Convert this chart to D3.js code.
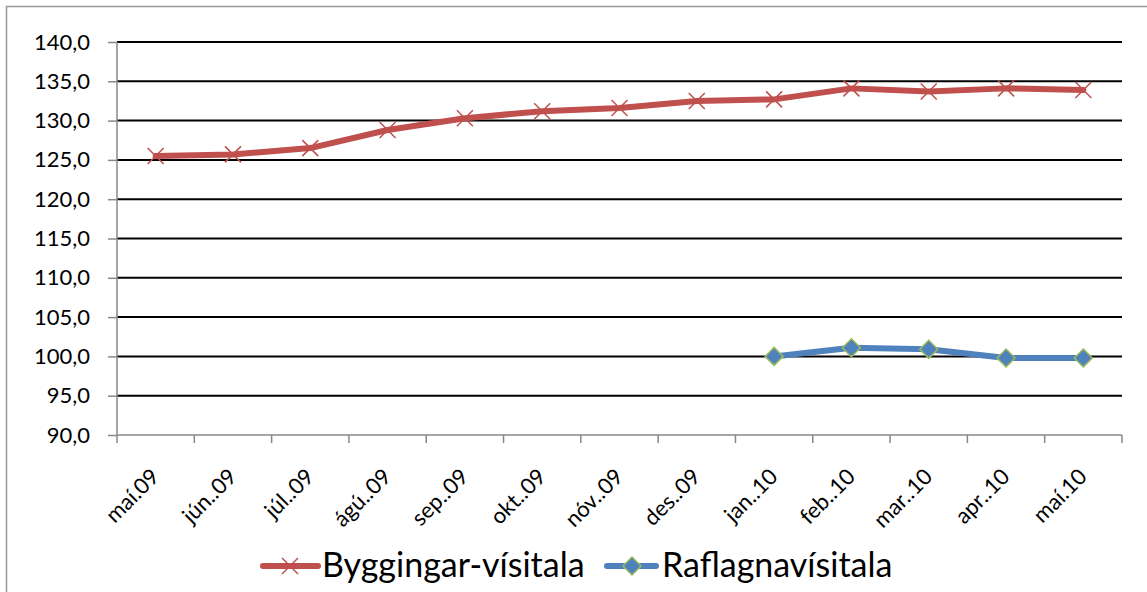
<!DOCTYPE html>
<html>
<head>
<meta charset="utf-8">
<script src="https://cdn.jsdelivr.net/npm/d3@7"></script>
<style>
  body { margin: 0; background: #fff; }
  svg { display: block; font-family: Lato, "Open Sans", sans-serif; }
</style>
</head>
<body>
<script>
var months = ["maí.09", "jún..09", "júl..09", "ágú..09", "sep..09", "okt..09", "nóv..09",
  "des..09", "jan..10", "feb..10", "mar..10", "apr..10", "maí.10"];
var bygging = [125.5, 125.7, 126.5, 128.8, 130.3, 131.2, 131.6, 132.5, 132.7, 134.1, 133.7, 134.1, 133.9];
var raflagna = [null, null, null, null, null, null, null, null, 100.0, 101.1, 100.9, 99.8, 99.8];
var yTicks = [90, 95, 100, 105, 110, 115, 120, 125, 130, 135, 140];

const w = 1147, h = 592;
var margin = { top: 42, left: 117, right: 25, bottom: 157 };
var pw = w - margin.left - margin.right;
var ph = h - margin.top - margin.bottom;

var svg = d3.select("body").append("svg")
  .attr("width", w)
  .attr("height", h);

// outer chart border
svg.append("path")
  .attr("d", "M6.5," + h + "V6.5H" + w)
  .attr("fill", "none")
  .attr("stroke", "#999")
  .attr("stroke-width", 1.5);

var g = svg.append("g")
  .attr("transform", "translate(" + margin.left + "," + margin.top + ")");

var x = d3.scaleBand().domain(months).range([0, pw]);
var y = d3.scaleLinear().domain([90, 140]).range([ph, 0]);
var cx = (d) => x(d) + x.bandwidth() / 2;

// gridlines
g.selectAll(".grid")
  .data(yTicks.slice(1))
  .enter()
  .append("line")
  .attr("x1", 0).attr("x2", pw)
  .attr("y1", (d) => y(d)).attr("y2", (d) => y(d))
  .attr("stroke", "#000")
  .attr("stroke-width", 2);

// y axis
var yAxis = g.append("g")
  .call(d3.axisLeft(y).tickValues(yTicks).tickSize(9).tickPadding(18)
    .tickFormat((d) => d3.format(".1f")(d).replace(".", ",")));
yAxis.select(".domain").attr("stroke", "#888").attr("stroke-width", 1.5).attr("d", "M0,0V" + ph);
yAxis.selectAll(".tick line").attr("stroke", "#888").attr("stroke-width", 1.5);
yAxis.selectAll("text").attr("font-size", 22).attr("fill", "#000")
  .attr("font-family", "Lato, sans-serif");

// x axis with ticks at category boundaries
var xg = g.append("g").attr("transform", "translate(0," + ph + ")");
xg.append("line").attr("x1", 0).attr("x2", pw).attr("stroke", "#888").attr("stroke-width", 1.5);
var bounds = months.map((d) => x(d)).concat([pw]);
xg.selectAll(".xt")
  .data(bounds)
  .enter()
  .append("line")
  .attr("x1", (d) => d).attr("x2", (d) => d)
  .attr("y1", 0).attr("y2", 8)
  .attr("stroke", "#888").attr("stroke-width", 1.5);
xg.selectAll(".xl")
  .data(months)
  .enter()
  .append("text")
  .attr("transform", (d) => "translate(" + (cx(d) + 5) + ",43) rotate(-45)")
  .attr("text-anchor", "end")
  .attr("font-size", 22)
  .text((d) => d);

// lines
var line = d3.line()
  .defined((d) => d[1] != null)
  .x((d) => cx(d[0]))
  .y((d) => y(d[1]));

g.append("path")
  .datum(months.map((m, i) => [m, bygging[i]]))
  .attr("d", line)
  .attr("fill", "none")
  .attr("stroke", "#c0504d")
  .attr("stroke-width", 6)
  .attr("stroke-linejoin", "round")
  .attr("stroke-linecap", "round");

g.append("path")
  .datum(months.map((m, i) => [m, raflagna[i]]))
  .attr("d", line)
  .attr("fill", "none")
  .attr("stroke", "#4f81bd")
  .attr("stroke-width", 6)
  .attr("stroke-linejoin", "round")
  .attr("stroke-linecap", "round");

var cross = "M-8,-8L8,8M-8,8L8,-8";
var diamond = "M0,-9L9,0L0,9L-9,0Z";

g.selectAll(".xm")
  .data(months)
  .enter()
  .append("path")
  .attr("transform", (d, i) => "translate(" + cx(d) + "," + y(bygging[i]) + ")")
  .attr("d", cross)
  .attr("stroke", "#c0504d")
  .attr("stroke-width", 1.5)
  .attr("fill", "none");

g.selectAll(".dm")
  .data(months.filter((d, i) => raflagna[i] != null))
  .enter()
  .append("path")
  .attr("transform", (d) => "translate(" + cx(d) + "," + y(raflagna[months.indexOf(d)]) + ")")
  .attr("d", diamond)
  .attr("fill", "#4f81bd")
  .attr("stroke", "#9bbb59")
  .attr("stroke-width", 1.5);

// legend
var legend = svg.append("g").attr("transform", "translate(0,566)");
legend.append("line")
  .attr("x1", 263).attr("x2", 318)
  .attr("stroke", "#c0504d").attr("stroke-width", 6).attr("stroke-linecap", "round");
legend.append("path")
  .attr("transform", "translate(290,0)")
  .attr("d", cross)
  .attr("stroke", "#c0504d").attr("stroke-width", 1.5);
legend.append("text")
  .attr("x", 322).attr("y", 11)
  .attr("font-size", 34)
  .text("Byggingar-vísitala");

legend.append("line")
  .attr("x1", 607).attr("x2", 656)
  .attr("stroke", "#4f81bd").attr("stroke-width", 6).attr("stroke-linecap", "round");
legend.append("path")
  .attr("transform", "translate(632,0)")
  .attr("d", diamond)
  .attr("fill", "#4f81bd").attr("stroke", "#9bbb59").attr("stroke-width", 1.5);
legend.append("text")
  .attr("x", 662).attr("y", 11)
  .attr("font-size", 34)
  .text("Raflagnavísitala");
</script>
</body>
</html>
